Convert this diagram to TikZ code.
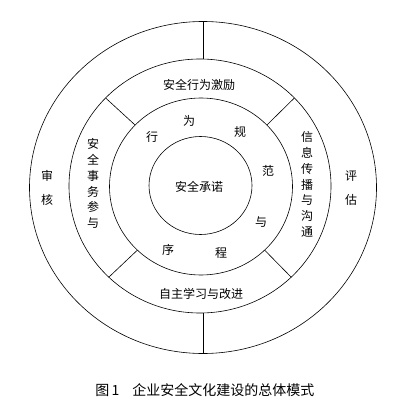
\documentclass[tikz,border=0pt]{standalone}
\usepackage{fontspec}
\setmainfont{Noto Sans CJK SC}
\usepackage{tikz}
\usetikzlibrary{shapes.geometric}

\begin{document}
\begin{tikzpicture}[x = 1pt,
                    y = -1pt,
                    line width = 0.6pt]

  \fill[white] (0,0) rectangle (407,420);
  \useasboundingbox (0,0) rectangle (407,420);


  % RING STYLE
  \tikzstyle{ring_style} = [draw=black, ellipse, inner sep=0pt, outer sep=0pt]
  \tikzstyle{word_style} = [inner sep=0pt, align=center, font=\fontsize{12}{15.8}\selectfont]


  % RINGS
  \node[ring_style, minimum width=347pt, minimum height=332pt] (ring_out) at (203, 187.5) {};
  \node[ring_style, minimum width=262pt, minimum height=254pt] (ring_mid) at (200, 186) {};
  \node[ring_style, minimum width=183pt, minimum height=177pt] (ring_in) at (201, 186.5) {};
  \node[ring_style, minimum width=103pt, minimum height=98pt] (core) at (200.5, 185.5) {};


  % DIVIDERS
  \draw (ring_out.north) -- (ring_out.north |- ring_mid.north);
  \draw (ring_out.south) -- (ring_out.south |- ring_mid.south);
  \draw (ring_mid.43) -- (ring_in.43);
  \draw (ring_mid.137) -- (ring_in.137);
  \draw (ring_mid.-135) -- (ring_in.-135);
  \draw (ring_mid.-45) -- (ring_in.-45);


  % CORE
  \node[word_style] (commit) at (199, 187) {安全承诺};


  % MIDDLE RING
  \node[word_style] (incentive) at (199, 85) {安全行为激励};
  \node[word_style] (study) at (201, 294) {自主学习与改进};
  \node[word_style] (affairs) at (93, 183.5) {安\\全\\事\\务\\参\\与};
  \node[word_style] (inform) at (307, 184.5) {信\\息\\传\\播\\与\\沟\\通};


  % INNER RING
  \node[word_style] (w_xing) at (152, 137) {行};
  \node[word_style] (w_wei) at (189, 121) {为};
  \node[word_style] (w_gui) at (240, 132) {规};
  \node[word_style] (w_fan) at (268, 171) {范};
  \node[word_style] (w_yu) at (261, 222) {与};
  \node[word_style] (w_cheng) at (221, 253) {程};
  \node[word_style] (w_xu) at (168, 250) {序};


  % OUTER RING
  \node[word_style, font=\fontsize{12}{24}\selectfont] (audit) at (47, 188) {审\\核};
  \node[word_style, font=\fontsize{12}{24}\selectfont] (assess) at (351, 188) {评\\估};


  % CAPTION
  \node[inner sep=0pt, anchor=west, font=\fontsize{14}{16}\selectfont] (caption) at (95, 390)
       {图\,1\hspace{13pt}企业安全文化建设的总体模式};

\end{tikzpicture}
\end{document}
